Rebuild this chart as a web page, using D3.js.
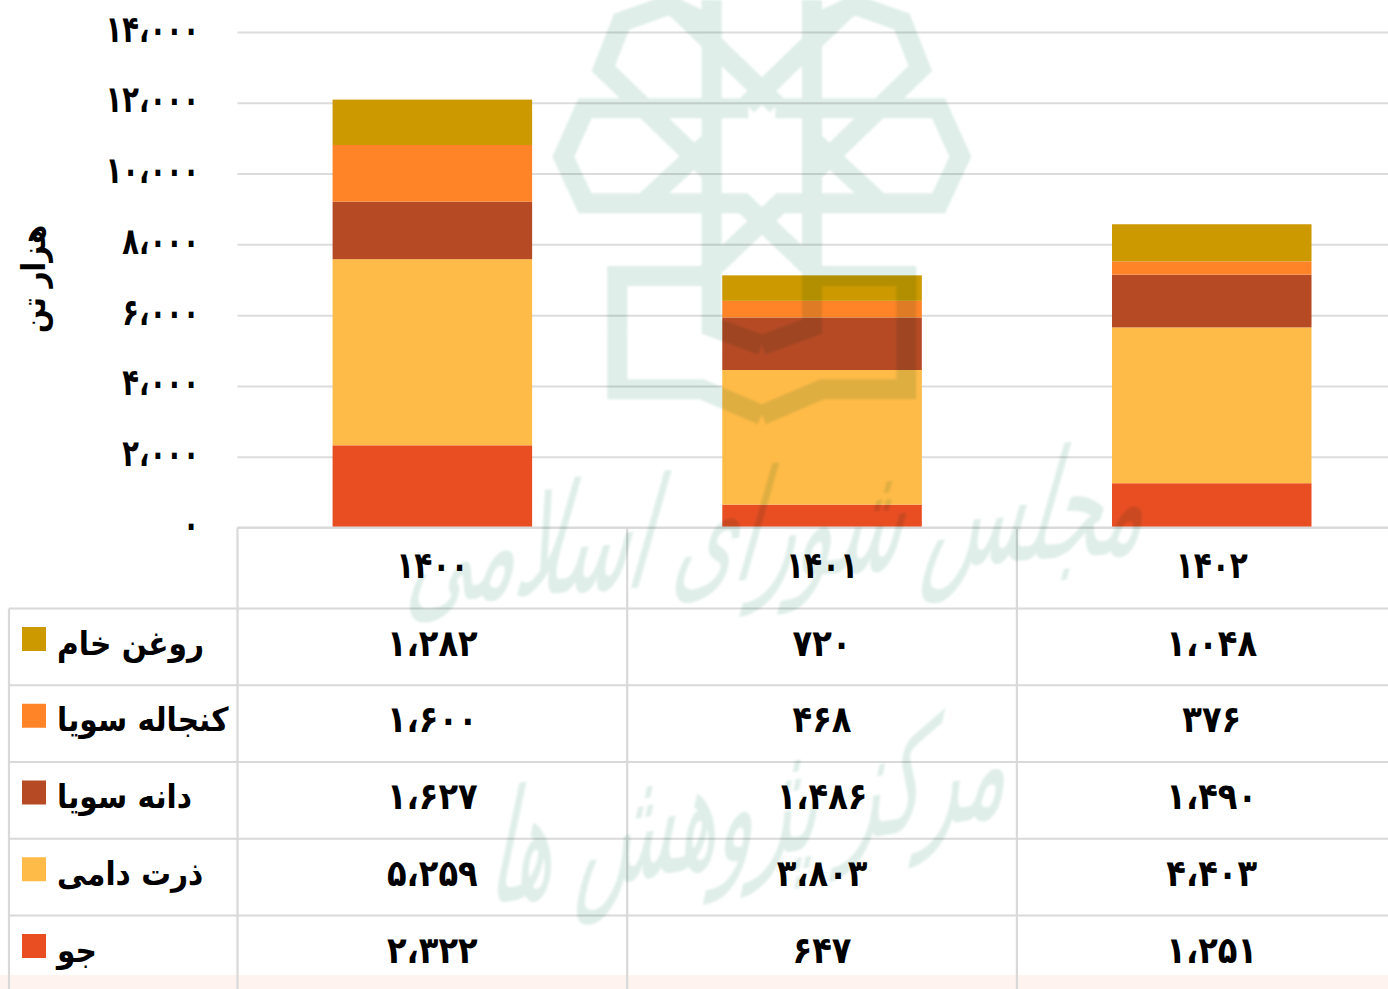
<!DOCTYPE html>
<html><head><meta charset="utf-8">
<script src="https://cdn.jsdelivr.net/npm/d3@7/dist/d3.min.js"></script>
<style>
html,body{margin:0;padding:0;background:#fff;overflow:hidden}
svg{display:block}
text{font-family:"DejaVu Sans";font-weight:700;fill:#000}
</style></head><body>
<div id="chart"></div>
<script>
const years = ["1400","1401","1402"];
const seriesNames = ["روغن خام","کنجاله سویا","دانه سویا","ذرت دامی","جو"];
const seriesColors = ["#cc9900","#ff8427","#b64a25","#ffbb47","#e94e23"];
const roghan = [1282,720,1048];
const konjaleh = [1600,468,376];
const daneh = [1627,1486,1490];
const zorrat = [5259,3803,4403];
const jo = [2322,647,1251];
const yTicks = [0,2000,4000,6000,8000,10000,12000,14000];
const yTitle = "هزار تن";
const markTitle1 = "مجلس شورای اسلامی";
const markTitle2 = "مرکز پژوهش ها";

const seriesValues = [roghan,konjaleh,daneh,zorrat,jo];
const W=1388,H=989;
const fa = s => String(s).replace(/\d/g,d=>"۰۱۲۳۴۵۶۷۸۹"[+d]).replace(/,/g,"،");
const fmt = v => fa(d3.format(",")(v));
const GRID="#dcdcdc", LINE="#d9d9d9";
const NUM_SIZE=37;

const svg=d3.select("#chart").append("svg").attr("width",W).attr("height",H);
svg.append("rect").attr("x",0).attr("y",975).attr("width",W).attr("height",14).attr("fill","#fff3f0");

const y=d3.scaleLinear().domain([0,14000]).range([527.5,32]);
const x=d3.scaleBand().domain(years).range([237.5,1406.6]).paddingInner(0.488).paddingOuter(0.244);
const col=d3.scaleBand().domain(years).range([237.5,1406.6]);
const row=d3.scaleBand().domain(seriesNames).range([608.5,992.25]);

// axis and grid
const axis=d3.axisLeft(y).tickValues(yTicks).tickFormat(fmt).tickSizeInner(-1150.5).tickSizeOuter(0).tickPadding(0);
const ag=svg.append("g").attr("transform","translate(237.5,0)").call(axis);
ag.select(".domain").remove();
ag.selectAll("line").attr("stroke",GRID).attr("stroke-width",2);
ag.selectAll("text").attr("x",0).attr("dy",0)
  .attr("font-size",NUM_SIZE).attr("font-family","DejaVu Sans").attr("font-weight",700).attr("fill","#000")
  .attr("transform","translate(-38,9) scale(.74,1)");

svg.append("text").attr("transform","translate(45,279) rotate(-90) scale(.85,1)").attr("text-anchor","middle")
  .attr("font-size",33).text(yTitle);

// stacked bars, bottom series first
const order=[4,3,2,1,0];
years.forEach((yr,i)=>{
  let base=0;
  order.forEach(s=>{
    const v=seriesValues[s][i];
    svg.append("rect").attr("x",x(yr)).attr("width",x.bandwidth())
      .attr("y",y(base+v)).attr("height",y(base)-y(base+v)).attr("fill",seriesColors[s]);
    base+=v;
  });
});

// data table
const tg=svg.append("g").attr("stroke",LINE).attr("stroke-width",2.2);
tg.append("line").attr("x1",237.5).attr("x2",W).attr("y1",y(0)).attr("y2",y(0));
seriesNames.forEach(n=>tg.append("line").attr("x1",9).attr("x2",W).attr("y1",row(n)).attr("y2",row(n)));
tg.append("line").attr("x1",9).attr("x2",9).attr("y1",row.range()[0]).attr("y2",H);
years.forEach(yr=>tg.append("line").attr("x1",col(yr)).attr("x2",col(yr)).attr("y1",y(0)).attr("y2",H));

function numText(cx,by,str,sx){
  svg.append("text").attr("transform",`translate(${cx},${by}) scale(${sx},1)`)
    .attr("text-anchor","middle").attr("font-size",NUM_SIZE).text(str);
}
years.forEach((yr,i)=>{
  const cx=col(yr)+col.bandwidth()/2;
  numText(cx,578,fa(yr),.8);
  seriesNames.forEach((n,s)=>numText(cx,row(n)+47,fmt(seriesValues[s][i]),.87));
});
seriesNames.forEach((n,s)=>{
  svg.append("rect").attr("x",22).attr("y",row(n)+18.5).attr("width",24).attr("height",24).attr("fill",seriesColors[s]);
  svg.append("text").attr("transform",`translate(57,${row(n)+46}) scale(.9,1)`).attr("font-size",33)
    .attr("text-anchor","start").attr("direction","ltr").text(n);
});

// watermark overlay
const defs=svg.append("defs");
defs.append("filter").attr("id","soft").append("feGaussianBlur").attr("stdDeviation",1.1);
const mark=svg.append("g").attr("filter","url(#soft)").style("mix-blend-mode","multiply");
const MARK="#dfeee9";
const half=[
 [[545,0],[545,980],[695,1035]],
 [[545,75],[415,15],[275,65],[220,205],[545,520]],
 [[430,16],[740,316]],
 [[655,325],[165,325],[100,470],[165,610],[640,610],[860,820]],
 [[340,610],[545,420]],
 [[545,828],[262,828],[262,1168],[515,1168],[695,1245]]
];
const toX=v=>530+v/3, toY=v=>v/3;
const mirror=pts=>pts.map(p=>[1391-p[0],p[1]]);
const emblem=mark.append("g").attr("fill","none").attr("stroke",MARK).attr("stroke-width",20).attr("stroke-linejoin","miter");
const emblemPath=d3.path();
half.forEach(p=>{[p,mirror(p)].forEach(q=>{q.forEach((pt,i)=>i?emblemPath.lineTo(toX(pt[0]),toY(pt[1])):emblemPath.moveTo(toX(pt[0]),toY(pt[1])));});});
emblem.append("path").attr("d",emblemPath.toString());
mark.append("text").attr("transform","translate(772,578) rotate(-4) skewX(-20) scale(.7,1.35)").attr("text-anchor","middle")
  .attr("font-size",112).style("fill",MARK).style("font-weight",400).text(markTitle1);
mark.append("text").attr("transform","translate(745,860) rotate(-10) skewX(-22) scale(.7,1.35)").attr("text-anchor","middle")
  .attr("font-size",112).style("fill",MARK).style("font-weight",400).text(markTitle2);
</script></body></html>
